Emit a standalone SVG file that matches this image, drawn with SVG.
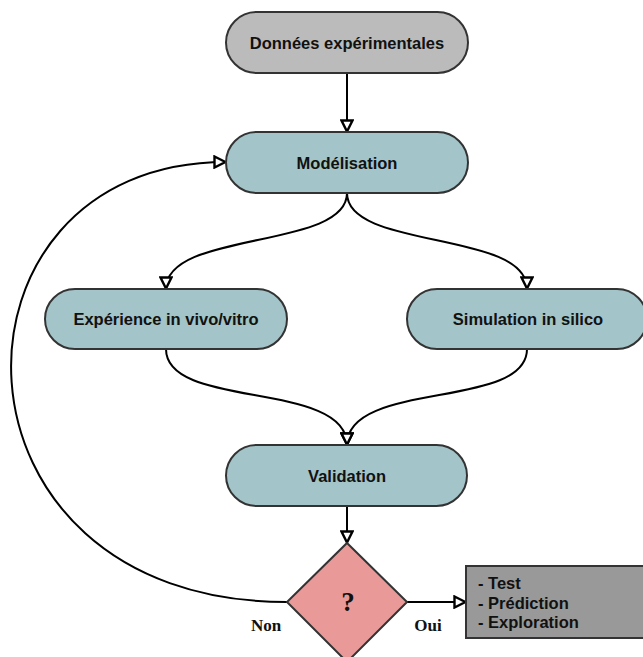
<svg xmlns="http://www.w3.org/2000/svg" width="643" height="657" viewBox="0 0 643 657">
<style>
.n{stroke:#333333;stroke-width:2}
.t{font-family:"Liberation Sans",Arial,sans-serif;font-weight:bold;font-size:16.5px;fill:#111111;text-anchor:middle}
.s{text-anchor:start}
.l{font-family:"Liberation Serif","Times New Roman",serif;font-weight:bold;font-size:17px;fill:#111111;text-anchor:middle}
.e{fill:none;stroke:#000000;stroke-width:2}
</style>
<defs>
<marker id="a" viewBox="0 0 14 14" refX="13" refY="7" markerWidth="14" markerHeight="14" markerUnits="userSpaceOnUse" orient="auto">
<path d="M1.5,1.5 L12.5,7 L1.5,12.5 Z" fill="#ffffff" stroke="#000000" stroke-width="2.4"/>
</marker>
</defs>
<rect width="643" height="657" fill="#ffffff"/>
<g id="edges">
<path class="e" d="M347,73 L347,132" marker-end="url(#a)"/>
<path class="e" d="M347,193 C347,250 166,230 166,289" marker-end="url(#a)"/>
<path class="e" d="M347,193 C347,250 527,230 527,289" marker-end="url(#a)"/>
<path class="e" d="M166,349 C166,410 347,380 347,445" marker-end="url(#a)"/>
<path class="e" d="M527,349 C527,410 347,380 347,445" marker-end="url(#a)"/>
<path class="e" d="M347,506 L347,543" marker-end="url(#a)"/>
<path class="e" d="M407,602 L466,602" marker-end="url(#a)"/>
<path class="e" d="M287,602 C-70,602 -70,162 226,162" marker-end="url(#a)"/>
</g>
<g id="donnees">
<rect class="n" x="226" y="12" width="242" height="61" rx="30.5" fill="#bbbbbb"/>
<text class="t" x="347" y="48.5">Données expérimentales</text>
</g>
<g id="modelisation">
<rect class="n" x="226" y="132" width="242" height="61" rx="30.5" fill="#a3c4c8"/>
<text class="t" x="347" y="168.5">Modélisation</text>
</g>
<g id="experience">
<rect class="n" x="45" y="289" width="242" height="60" rx="30" fill="#a3c4c8"/>
<text class="t" x="166" y="325">Expérience in vivo/vitro</text>
</g>
<g id="simulation">
<rect class="n" x="407" y="289" width="240" height="60" rx="30" fill="#a3c4c8"/>
<text class="t" x="528" y="325">Simulation in silico</text>
</g>
<g id="validation">
<rect class="n" x="226" y="445" width="241" height="61" rx="30.5" fill="#a3c4c8"/>
<text class="t" x="347" y="481.5">Validation</text>
</g>
<g id="decision">
<path class="n" d="M347,543 L407,602 L347,662 L287,602 Z" fill="#ea9999"/>
<text x="348" y="611" font-family="Liberation Serif,'Times New Roman',serif" font-weight="bold" font-size="27" fill="#111111" text-anchor="middle">?</text>
<text class="l" x="266" y="631">Non</text>
<text class="l" x="428" y="631">Oui</text>
</g>
<g id="resultats">
<rect class="n" x="466" y="566" width="180" height="72" fill="#999999"/>
<text class="t s" x="478" y="589">- Test</text>
<text class="t s" x="478" y="608.5">- Prédiction</text>
<text class="t s" x="478" y="628">- Exploration</text>
</g>
</svg>
